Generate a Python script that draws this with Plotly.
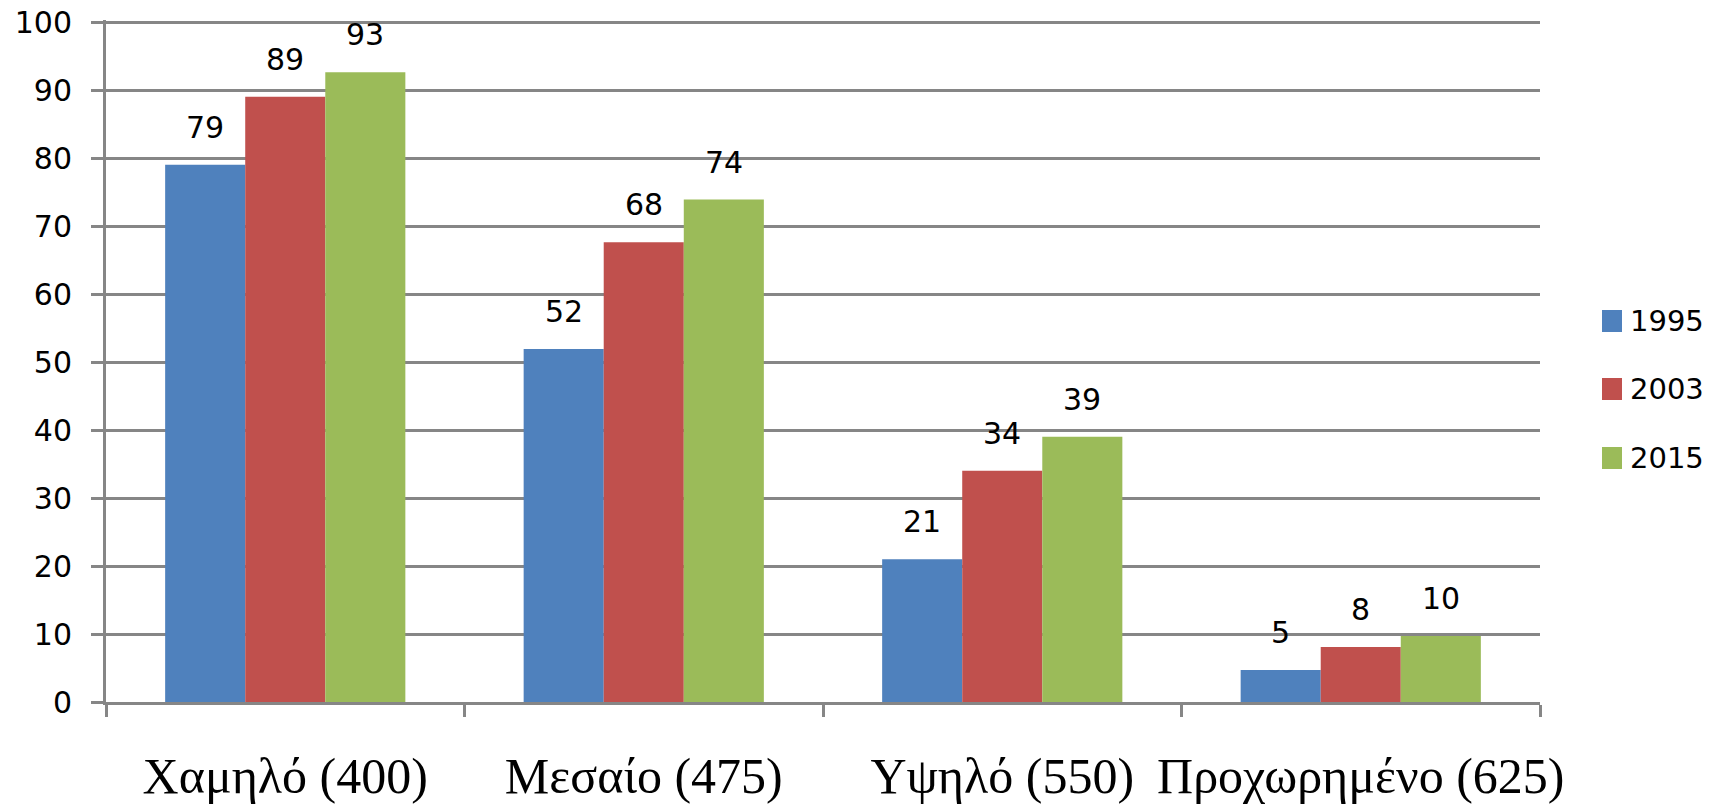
import plotly.graph_objects as go

categories = ["Χαμηλό (400)", "Μεσαίο (475)", "Υψηλό (550)", "Προχωρημένο (625)"]
years = ["1995", "2003", "2015"]
values_1995 = [79.0, 51.9, 21.0, 4.7]
values_2003 = [89.0, 67.6, 34.0, 8.1]
values_2015 = [92.6, 73.9, 39.0, 9.7]
y_ticks = [0, 10, 20, 30, 40, 50, 60, 70, 80, 90, 100]

series = [values_1995, values_2003, values_2015]
colors = ["#4F81BD", "#C0504D", "#9BBB59"]
GRID = "#868686"
BARGAP = 0.33
Y_MAX = 100.3   # a hair above 100 so the top gridline is kept

# full-window figure (body margin removed below); plot area at
# x 106..1540, y 20..702 of the 1709x804 window (gridline 100 at y=22)
FIG_W, FIG_H = 1709, 804
ML, MR, MT, MB = 106, 169, 20, 102
PLOT_W = FIG_W - ML - MR
PLOT_H = FIG_H - MT - MB

fig = go.Figure()
for name, vals, col in zip(years, series, colors):
    fig.add_trace(go.Bar(
        x=categories, y=vals, name=name,
        marker=dict(color=col, line=dict(width=0)),
        hoverinfo="x+y+name", showlegend=False,
    ))

# data labels above each bar
n = len(series)
w = (1 - BARGAP) / n
annotations = []
for j, vals in enumerate(series):
    for i, v in enumerate(vals):
        annotations.append(dict(
            x=i + (j - (n - 1) / 2) * w, y=v, xref="x", yref="y",
            text=f"{v:.0f}", showarrow=False, yanchor="bottom",
            yshift=18, font=dict(family="DejaVu Sans", size=30, color="#000000"),
        ))

# legend (squares + labels) to the right of the plot
shapes = []
leg_sq_x0, leg_sq_x1 = 1602 - ML, 1622 - ML   # px from plot-area left
leg_txt_x = 1628 - ML
leg_centers = [321, 389, 458]                  # px from window top
for name, col, cy in zip(years, colors, leg_centers):
    yc = (FIG_H - MB - cy) / PLOT_H
    shapes.append(dict(
        type="rect", xref="paper", yref="paper",
        x0=leg_sq_x0 / PLOT_W, x1=leg_sq_x1 / PLOT_W,
        y0=yc - 11 / PLOT_H, y1=yc + 11 / PLOT_H,
        fillcolor=col, line=dict(width=0),
    ))
    annotations.append(dict(
        x=leg_txt_x / PLOT_W, y=yc, xref="paper", yref="paper",
        text=name, showarrow=False, xanchor="left", yanchor="middle",
        font=dict(family="DejaVu Sans", size=29, color="#000000"),
    ))

fig.update_layout(
    width=FIG_W, height=FIG_H,
    margin=dict(l=ML, r=MR, t=MT, b=MB, autoexpand=False),
    paper_bgcolor="white", plot_bgcolor="white",
    barmode="group", bargap=BARGAP, bargroupgap=0,
    showlegend=False,
    annotations=annotations, shapes=shapes,
)
fig.update_xaxes(
    automargin=False, tickangle=0,
    showgrid=False, showline=True, linecolor=GRID, linewidth=3,
    ticks="outside", tickson="boundaries", ticklen=12, tickwidth=3, tickcolor=GRID,
    tickfont=dict(family="Liberation Serif", size=50, color="#000000"),
    ticklabelstandoff=28,
)
fig.update_yaxes(
    automargin=False,
    range=[0, Y_MAX], tickvals=y_ticks, showgrid=True, gridcolor=GRID, gridwidth=3,
    showline=True, linecolor=GRID, linewidth=3, zeroline=False,
    ticks="outside", ticklen=12, tickwidth=3, tickcolor=GRID,
    tickfont=dict(family="DejaVu Sans", size=30, color="#000000"),
    ticklabelstandoff=13, ticklabeloverflow="allow",
)

fig.write_html(
    "out.html",
    config={"displayModeBar": False},
    post_script="document.body.style.margin='0';document.body.style.overflow='hidden';",
)
